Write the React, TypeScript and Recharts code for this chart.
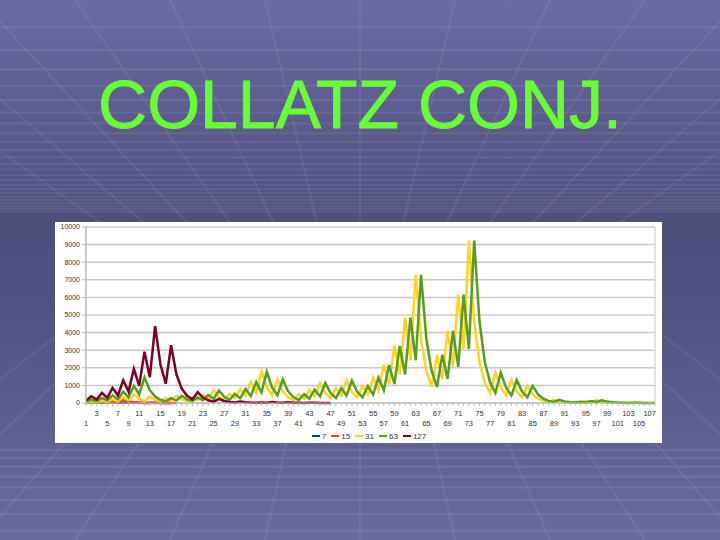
// Folie "COLLATZ CONJ." – Collatz-Folgen der Startwerte 7, 15, 31, 63, 127 als Liniendiagramm (recharts).

import { LineChart, Line, XAxis, YAxis, CartesianGrid, Legend, ReferenceLine } from "recharts"

// Schritt-Nummern (Kategorien der x-Achse)
const STEPS = Array.from({ length: 108 }, (_, i) => i + 1)

const SEQ_7 = [7, 22, 11, 34, 17, 52, 26, 13, 40, 20, 10, 5, 16, 8, 4, 2, 1]
const SEQ_15 = [15, 46, 23, 70, 35, 106, 53, 160, 80, 40, 20, 10, 5, 16, 8, 4, 2, 1]
const SEQ_31 = [
  31, 94, 47, 142, 71, 214, 107, 322, 161, 484, 242, 121, 364, 182, 91, 274, 137, 412, 206, 103,
  310, 155, 466, 233, 700, 350, 175, 526, 263, 790, 395, 1186, 593, 1780, 890, 445, 1336, 668, 334, 167,
  502, 251, 754, 377, 1132, 566, 283, 850, 425, 1276, 638, 319, 958, 479, 1438, 719, 2158, 1079, 3238, 1619,
  4858, 2429, 7288, 3644, 1822, 911, 2734, 1367, 4102, 2051, 6154, 3077, 9232, 4616, 2308, 1154, 577, 1732, 866, 433,
  1300, 650, 325, 976, 488, 244, 122, 61, 184, 92, 46, 23, 70, 35, 106, 53, 160, 80, 40, 20,
  10, 5, 16, 8, 4, 2, 1,
]
const SEQ_63 = [
  63, 190, 95, 286, 143, 430, 215, 646, 323, 970, 485, 1456, 728, 364, 182,
  91, 274, 137, 412, 206, 103, 310, 155, 466, 233, 700, 350, 175, 526, 263, 790, 395, 1186, 593, 1780,
  890, 445, 1336, 668, 334, 167, 502, 251, 754, 377, 1132, 566, 283, 850, 425, 1276, 638, 319, 958, 479,
  1438, 719, 2158, 1079, 3238, 1619, 4858, 2429, 7288, 3644, 1822, 911, 2734, 1367, 4102, 2051, 6154, 3077, 9232, 4616,
  2308, 1154, 577, 1732, 866, 433, 1300, 650, 325, 976, 488, 244, 122, 61, 184, 92, 46, 23, 70, 35,
  106, 53, 160, 80, 40, 20, 10, 5, 16, 8, 4, 2, 1,
]
const SEQ_127 = [
  127, 382, 191, 574, 287, 862, 431, 1294, 647, 1942, 971, 2914, 1457, 4372, 2186, 1093, 3280, 1640, 820, 410,
  205, 616, 308, 154, 77, 232, 116, 58, 29, 88, 44, 22, 11, 34, 17, 52, 26, 13, 40, 20,
  10, 5, 16, 8, 4, 2, 1,
]

const Y_TICKS = [0, 1000, 2000, 3000, 4000, 5000, 6000, 7000, 8000, 9000, 10000]

const SERIES = [
  { key: "s7", name: "7", values: SEQ_7, color: "#004586" },
  { key: "s15", name: "15", values: SEQ_15, color: "#ff420e" },
  { key: "s31", name: "31", values: SEQ_31, color: "#ffd320" },
  { key: "s63", name: "63", values: SEQ_63, color: "#579d1c" },
  { key: "s127", name: "127", values: SEQ_127, color: "#7e0021" },
]

const data = STEPS.map((n, i) => {
  const row: Record<string, number | undefined> = { n }
  SERIES.forEach((s) => {
    row[s.key] = s.values[i]
  })
  return row
})

// nur ungerade Schritte beschriften, abwechselnd in zwei Zeilen
function StepTick(props: any) {
  const { x, y, payload } = props
  const v = Number(payload.value)
  if (v % 2 === 0) return <g />
  const upper = ((v - 1) / 2) % 2 === 1
  return (
    <text x={x} y={y + (upper ? 8 : 18)} textAnchor="middle" fontSize={7.5} fill="#333">
      {v}
    </text>
  )
}

function LegendRow() {
  return (
    <div
      style={{
        display: "flex",
        justifyContent: "center",
        alignItems: "center",
        gap: 5,
        height: 14,
        fontSize: 8,
        color: "#333",
        paddingLeft: 28,
      }}
    >
      {SERIES.map((s) => (
        <span key={s.key} style={{ display: "flex", alignItems: "center" }}>
          <span style={{ display: "inline-block", width: 8, height: 2.5, background: s.color, marginRight: 2 }} />
          {s.name}
        </span>
      ))}
    </div>
  )
}

// Folienhintergrund: Verlauf mit perspektivischem Gitter
function Background() {
  const hLines: number[] = []
  for (let k = 1; k < 30; k++) {
    const a = 300 - 3000 / (k + 10)
    const b = 300 + 3000 / (k + 10)
    if (a < 212) hLines.push(a)
    if (b > 448 && b < 540) hLines.push(b)
  }
  const vLines: number[] = []
  for (let j = -6; j <= 6; j++) vLines.push(j)
  return (
    <svg width={720} height={540} style={{ position: "absolute", left: 0, top: 0 }}>
      <defs>
        <linearGradient id="bg" x1="0" y1="0" x2="0" y2="1">
          <stop offset="0" stopColor="#6a6aa6" />
          <stop offset="0.42" stopColor="#4e4e7b" />
          <stop offset="0.6" stopColor="#535384" />
          <stop offset="1" stopColor="#6a6aa2" />
        </linearGradient>
      </defs>
      <rect x={0} y={0} width={720} height={540} fill="url(#bg)" />
      {hLines.map((y, i) => (
        <line key={"h" + i} x1={0} x2={720} y1={y} y2={y} stroke="#ffffff" strokeOpacity={0.08} strokeWidth={2} />
      ))}
      {vLines.map((j) => (
        <g key={"v" + j}>
          <line x1={360 + 95 * j} y1={0} x2={360 + 95 * j * 0.45} y2={225} stroke="#ffffff" strokeOpacity={0.07} strokeWidth={2} />
          <line x1={360 + 95 * j} y1={540} x2={360 + 95 * j * 0.45} y2={300} stroke="#ffffff" strokeOpacity={0.07} strokeWidth={2} />
        </g>
      ))}
      <text
        x={360}
        y={128}
        textAnchor="middle"
        fontSize={68}
        fill="#66ff33"
        stroke="#66ff33"
        strokeWidth={0.8}
        fontFamily="'Liberation Sans', Arial, sans-serif"
      >
        COLLATZ CONJ.
      </text>
    </svg>
  )
}

export default function App() {
  return (
    <div style={{ position: "absolute", left: 0, top: 0, width: 720, height: 540, overflow: "hidden" }}>
      <Background />
      <div
        style={{
          position: "absolute",
          left: 55,
          top: 222,
          width: 607,
          height: 221,
          background: "#fff",
          fontFamily: "'Liberation Sans', Arial, sans-serif",
        }}
      >
        <LineChart width={607} height={221} data={data} margin={{ top: 5, right: 7, left: 0, bottom: 0 }}>
          <CartesianGrid vertical={false} stroke="#c8c8c8" strokeWidth={1.5} />
          <XAxis
            dataKey="n"
            interval={0}
            tick={<StepTick />}
            tickSize={3}
            height={26}
            axisLine={{ stroke: "#b8b8b8" }}
            tickLine={{ stroke: "#b8b8b8" }}
          />
          <YAxis
            domain={[0, 10000]}
            ticks={Y_TICKS}
            width={31}
            tickSize={4}
            fontSize={7}
            tick={{ fill: "#333" }}
            axisLine={{ stroke: "#b8b8b8", strokeWidth: 1.5 }}
            tickLine={{ stroke: "#b8b8b8" }}
            interval={0}
          />
          <ReferenceLine x={108} stroke="#c8c8c8" />
          <Legend verticalAlign="bottom" height={14} content={<LegendRow />} />
          {SERIES.map((s) => (
            <Line
              key={s.key}
              dataKey={s.key}
              name={s.name}
              stroke={s.color}
              strokeWidth={2.5}
              dot={false}
              type="linear"
              isAnimationActive={false}
            />
          ))}
        </LineChart>
      </div>
    </div>
  )
}
